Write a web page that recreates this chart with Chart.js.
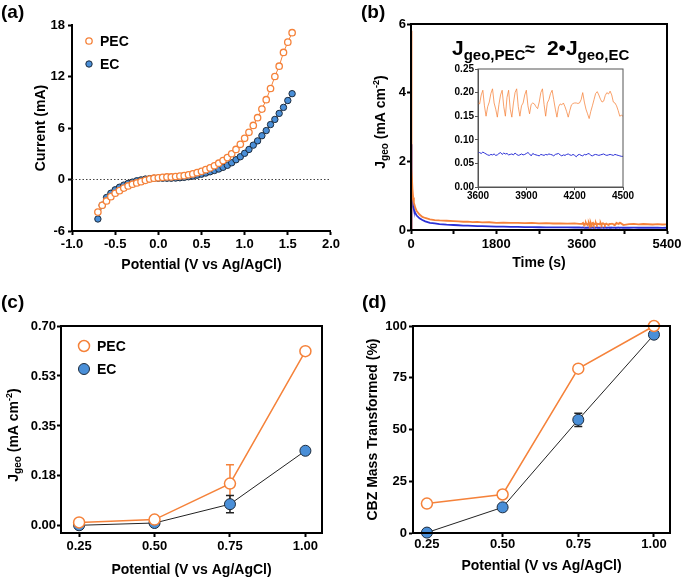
<!DOCTYPE html>
<html>
<head>
<meta charset="utf-8">
<script src="https://cdn.jsdelivr.net/npm/chart.js@4.4.1/dist/chart.umd.min.js"></script>
<style>
body { margin: 0; background: #fff; }
#wrap { position: relative; width: 685px; height: 580px; }
canvas { position: absolute; }
</style>
</head>
<body>
<div id="wrap">
  <canvas id="cA" width="342" height="290" style="left:0;top:0"></canvas>
  <canvas id="cB" width="343" height="290" style="left:342px;top:0"></canvas>
  <canvas id="cC" width="342" height="290" style="left:0;top:290px"></canvas>
  <canvas id="cD" width="343" height="290" style="left:342px;top:290px"></canvas>
  <canvas id="cI" width="200" height="145" style="left:440px;top:60px"></canvas>
</div>
<script>
// ---- (a) LSV curves
var cvPotential = [-0.70, -0.65, -0.60, -0.55, -0.50, -0.45, -0.40, -0.35, -0.30, -0.25,
    -0.20, -0.15, -0.10, -0.05, 0.00, 0.05, 0.10, 0.15, 0.20, 0.25,
    0.30, 0.35, 0.40, 0.45, 0.50, 0.55, 0.60, 0.65, 0.70, 0.75,
    0.80, 0.85, 0.90, 0.95, 1.00, 1.05, 1.10, 1.15, 1.20, 1.25,
    1.30, 1.35, 1.40, 1.45, 1.50, 1.55]
var cvPEC = [-3.8, -3.0, -2.5, -2.0, -1.6, -1.3, -1.0, -0.75, -0.55, -0.4,
    -0.25, -0.1, 0.05, 0.15, 0.2, 0.25, 0.3, 0.3, 0.35, 0.4,
    0.45, 0.55, 0.65, 0.8, 0.95, 1.15, 1.35, 1.6, 1.9, 2.2,
    2.55, 3.0, 3.5, 4.1, 4.8, 5.5, 6.3, 7.2, 8.2, 9.3,
    10.6, 12.0, 13.2, 14.8, 16.0, 17.1]
var cvEC = [-4.6, -3.0, -2.1, -1.6, -1.2, -0.9, -0.65, -0.45, -0.3, -0.15,
    -0.05, 0.05, 0.1, 0.15, 0.15, 0.15, 0.15, 0.15, 0.17, 0.2,
    0.25, 0.32, 0.4, 0.5, 0.62, 0.75, 0.9, 1.05, 1.22, 1.42,
    1.65, 1.95, 2.3, 2.65, 3.05, 3.5, 4.0, 4.5, 5.1, 5.7,
    6.4, 7.0, 7.7, 8.4, 9.2, 10.0]
var aTicksX = [-1.0, -0.5, 0.0, 0.5, 1.0, 1.5, 2.0]
var aLabelsX = ['-1.0', '-0.5', '0.0', '0.5', '1.0', '1.5', '2.0']
var aTicksY = [-6, 0, 6, 12, 18]
var aLabelsY = ['-6', '0', '6', '12', '18']

// ---- (b) chronoamperometry
var earlyTime = [0, 3, 10, 20, 30, 45, 60, 90, 120, 180, 240, 300, 400, 500, 600, 750, 900,
    1000, 1100, 1200, 1300, 1400, 1500, 1650, 1800, 1950, 2100, 2250, 2400, 2550, 2700,
    2850, 3000, 3150, 3300, 3450, 3550]
var pecEarly = [0, 5.8, 3.0, 1.8, 1.2, 0.95, 0.8, 0.65, 0.55, 0.45, 0.38, 0.35, 0.31, 0.29, 0.28, 0.27, 0.26,
    0.25, 0.24, 0.245, 0.23, 0.235, 0.22, 0.225, 0.21, 0.215, 0.205, 0.21, 0.2, 0.205, 0.195,
    0.2, 0.19, 0.195, 0.185, 0.19, 0.18]
var ecEarly = [0, 2.5, 1.6, 1.1, 0.85, 0.7, 0.6, 0.5, 0.42, 0.34, 0.29, 0.25, 0.21, 0.19, 0.17, 0.155, 0.145,
    0.138, 0.13, 0.125, 0.12, 0.115, 0.11, 0.105, 0.1, 0.096, 0.092, 0.089, 0.086, 0.083, 0.08,
    0.078, 0.077, 0.075, 0.074, 0.073, 0.073]
var insetTime = [3600, 3610, 3620, 3630, 3640, 3650, 3660, 3670, 3680, 3690,
    3700, 3710, 3720, 3730, 3740, 3750, 3760, 3770, 3780, 3790,
    3800, 3810, 3820, 3830, 3840, 3850, 3860, 3870, 3880, 3890,
    3900, 3910, 3920, 3930, 3940, 3950, 3960, 3970, 3980, 3990,
    4000, 4010, 4020, 4030, 4040, 4050, 4060, 4070, 4080, 4090,
    4100, 4110, 4120, 4130, 4140, 4150, 4160, 4170, 4180, 4190,
    4200, 4210, 4220, 4230, 4240, 4250, 4260, 4270, 4280, 4290,
    4300, 4310, 4320, 4330, 4340, 4350, 4360, 4370, 4380, 4390,
    4400, 4410, 4420, 4430, 4440, 4450, 4460, 4470, 4480, 4490,
    4500]
var pecInset = [0.178, 0.176, 0.195, 0.205, 0.172, 0.150, 0.170, 0.180, 0.198, 0.208,
    0.178, 0.165, 0.148, 0.175, 0.195, 0.205, 0.170, 0.150, 0.190, 0.205,
    0.165, 0.148, 0.178, 0.200, 0.208, 0.170, 0.150, 0.172, 0.178, 0.195,
    0.205, 0.172, 0.155, 0.175, 0.178, 0.176, 0.170, 0.166, 0.180, 0.200,
    0.208, 0.175, 0.150, 0.178, 0.185, 0.198, 0.205, 0.185, 0.165, 0.148,
    0.170, 0.176, 0.174, 0.178, 0.170, 0.160, 0.148, 0.162, 0.174, 0.177,
    0.178, 0.178, 0.177, 0.178, 0.185, 0.200, 0.180, 0.165, 0.155, 0.145,
    0.160, 0.172, 0.185, 0.198, 0.202, 0.195, 0.186, 0.180, 0.182, 0.194,
    0.200, 0.197, 0.203, 0.195, 0.180, 0.178, 0.172, 0.162, 0.150, 0.152,
    0.150]
var ecInset = [0.072, 0.073, 0.071, 0.074, 0.072, 0.070, 0.068, 0.067, 0.069, 0.068,
    0.070, 0.067, 0.068, 0.071, 0.073, 0.069, 0.072, 0.070, 0.071, 0.068,
    0.069, 0.070, 0.068, 0.072, 0.069, 0.067, 0.068, 0.070, 0.068, 0.069,
    0.071, 0.073, 0.070, 0.066, 0.071, 0.069, 0.068, 0.067, 0.066, 0.069,
    0.068, 0.067, 0.069, 0.068, 0.070, 0.069, 0.068, 0.066, 0.069, 0.070,
    0.071, 0.068, 0.066, 0.068, 0.067, 0.069, 0.070, 0.068, 0.067, 0.069,
    0.067, 0.064, 0.068, 0.069, 0.067, 0.066, 0.069, 0.068, 0.070, 0.071,
    0.067, 0.066, 0.068, 0.069, 0.068, 0.067, 0.068, 0.069, 0.070, 0.068,
    0.067, 0.068, 0.069, 0.068, 0.067, 0.069, 0.068, 0.067, 0.066, 0.065,
    0.065]
var lateTime = [4600, 4700, 4800, 4900, 5000, 5100, 5200, 5300, 5400]
var pecLate = [0.17, 0.18, 0.165, 0.175, 0.168, 0.16, 0.17, 0.16, 0.165]
var ecLate = [0.066, 0.067, 0.066, 0.065, 0.066, 0.065, 0.065, 0.064, 0.065]
var bTicksX = [0, 900, 1800, 2700, 3600, 4500, 5400]
var bLabelsX = ['0', '', '1800', '', '3600', '', '5400']
var bTicksY = [0, 2, 4, 6]
var bLabelsY = ['0', '2', '4', '6']
var insetTicksX = [3600, 3900, 4200, 4500]
var insetLabelsX = ['3600', '3900', '4200', '4500']
var insetTicksY = [0, 0.05, 0.10, 0.15, 0.20, 0.25]
var insetLabelsY = ['0.00', '0.05', '0.10', '0.15', '0.20', '0.25']

// ---- (c) and (d)
var potentials = [0.25, 0.50, 0.75, 1.00]
var jPEC = [0.012, 0.022, 0.148, 0.612]
var jPECErr = [0, 0, 0.066, 0]
var jEC = [0.002, 0.010, 0.076, 0.263]
var jECErr = [0, 0, 0.030, 0]
var cbzPEC = [14.2, 18.6, 79.4, 100]
var cbzPECErr = [0, 0, 1.5, 0]
var cbzEC = [0.2, 12.4, 54.7, 95.8]
var cbzECErr = [0, 0, 3.2, 0]
var potTicks = [0.25, 0.50, 0.75, 1.00]
var potLabels = ['0.25', '0.50', '0.75', '1.00']
var cTicksY = [0, 0.175, 0.35, 0.525, 0.70]
var cLabelsY = ['0.00', '0.18', '0.35', '0.53', '0.70']
var dTicksY = [0, 25, 50, 75, 100]
var dLabelsY = ['0', '25', '50', '75', '100']

var orange = '#f5823a'
var orangeThin = 'rgba(245, 130, 58, 0.75)'
var blueFill = '#4a8fd8'
var blueEdge = '#1d2b3c'
var blueLine = '#2b30d6'
var fontFamily = "'Liberation Sans', Arial, Helvetica, sans-serif"

Chart.defaults.font.family = fontFamily
Chart.defaults.font.weight = 'bold'
Chart.defaults.font.size = 13
Chart.defaults.color = '#000'
Chart.defaults.animation = false
Chart.defaults.plugins.legend.display = false
Chart.defaults.plugins.tooltip.enabled = false

function xy(xs, ys) {
    return xs.map(function (x, i) { return {x: x, y: ys[i]} })
}

function axis(o) {
    return {
        type: 'linear',
        min: o.min,
        max: o.max,
        afterBuildTicks: function (s) {
            s.ticks = o.ticks.map(function (v) { return {value: v} })
        },
        afterFit: function (s) {
            if (s.isHorizontal()) s.height = o.size; else s.width = o.size
        },
        ticks: {
            autoSkip: false,
            maxRotation: 0,
            padding: o.pad,
            color: '#000',
            font: {size: o.font || 13},
            callback: function (v, i) { return o.labels[i] }
        },
        grid: {
            drawOnChartArea: false,
            tickLength: o.tl || 4,
            tickWidth: o.bw || 2,
            tickColor: o.color || '#000'
        },
        border: {color: o.color || '#000', width: o.bw || 2},
        title: o.title ? {display: true, text: o.title, color: '#000', font: {size: 14}, padding: o.tpad} : {display: false}
    }
}

// text made of pieces with sub/superscripts
function drawRich(ctx, x, y, parts, rot, align) {
    ctx.save()
    var total = 0
    parts.forEach(function (p) {
        ctx.font = 'bold ' + p.s + 'px ' + fontFamily
        p.w = ctx.measureText(p.t).width
        total += p.w
    })
    ctx.translate(x, y)
    ctx.rotate(rot || 0)
    var cx = align === 'left' ? 0 : -total / 2
    ctx.fillStyle = '#000'
    ctx.textBaseline = 'alphabetic'
    ctx.textAlign = 'left'
    parts.forEach(function (p) {
        ctx.font = 'bold ' + p.s + 'px ' + fontFamily
        ctx.fillText(p.t, cx, p.dy || 0)
        cx += p.w
    })
    ctx.restore()
}

function decor(cfg) {
    return {
        id: 'decor',
        beforeDatasetsDraw: function (chart) {
            var ctx = chart.ctx
            var a = chart.chartArea
            if (cfg.zero) {
                var y0 = chart.scales.y.getPixelForValue(0)
                ctx.save()
                ctx.strokeStyle = '#444'
                ctx.lineWidth = 1
                ctx.setLineDash([1.5, 2])
                ctx.beginPath()
                ctx.moveTo(a.left, y0)
                ctx.lineTo(a.right, y0)
                ctx.stroke()
                ctx.restore()
            }
            (cfg.errors || []).forEach(function (e) {
                var meta = chart.getDatasetMeta(e.ds)
                var ys = chart.data.datasets[e.ds].data
                ctx.save()
                ctx.strokeStyle = e.color
                ctx.lineWidth = 1.5
                e.values.forEach(function (err, i) {
                    if (!err) return
                    var px = meta.data[i].x
                    var top = chart.scales.y.getPixelForValue(ys[i].y + err)
                    var bot = chart.scales.y.getPixelForValue(ys[i].y - err)
                    ctx.beginPath()
                    ctx.moveTo(px, top); ctx.lineTo(px, bot)
                    ctx.moveTo(px - 4, top); ctx.lineTo(px + 4, top)
                    ctx.moveTo(px - 4, bot); ctx.lineTo(px + 4, bot)
                    ctx.stroke()
                })
                ctx.restore()
            })
        },
        afterDraw: function (chart) {
            var ctx = chart.ctx
            var a = chart.chartArea
            if (cfg.box) {
                ctx.save()
                ctx.strokeStyle = cfg.boxColor || '#000'
                ctx.lineWidth = cfg.boxWidth || 2
                ctx.strokeRect(a.left, a.top, a.right - a.left, a.bottom - a.top)
                ctx.restore()
            }
            if (cfg.letter) {
                ctx.save()
                ctx.font = 'bold 19px ' + fontFamily
                ctx.fillStyle = '#000'
                ctx.textBaseline = 'alphabetic'
                ctx.fillText(cfg.letter[0], cfg.letter[1], cfg.letter[2])
                ctx.restore()
            }
            (cfg.rich || []).forEach(function (r) {
                drawRich(ctx, r.x, r.y, r.parts, r.rot, r.align)
            });
            (cfg.legend || []).forEach(function (l) {
                ctx.save()
                ctx.beginPath()
                ctx.arc(l.x, l.y, l.r, 0, Math.PI * 2)
                ctx.fillStyle = l.fill
                ctx.fill()
                ctx.lineWidth = l.lw
                ctx.strokeStyle = l.stroke
                ctx.stroke()
                ctx.font = 'bold 14px ' + fontFamily
                ctx.fillStyle = '#000'
                ctx.textBaseline = 'middle'
                ctx.fillText(l.label, l.tx, l.y + 1)
                ctx.restore()
            })
        }
    }
}

var jgeoTitle = [
    {t: 'J', s: 14},
    {t: 'geo', s: 10, dy: 3},
    {t: ' (mA cm', s: 14},
    {t: '-2', s: 9, dy: -6},
    {t: ')', s: 14}
]

// ---- (a)
new Chart(document.getElementById('cA'), {
    type: 'line',
    data: {
        datasets: [
            {
                data: xy(cvPotential, cvPEC),
                borderColor: orange, borderWidth: 1,
                pointRadius: 3.2, pointBackgroundColor: '#fff',
                pointBorderColor: orange, pointBorderWidth: 1.3, clip: false
            },
            {
                data: xy(cvPotential, cvEC),
                borderColor: blueEdge, borderWidth: 1,
                pointRadius: 3.2, pointBackgroundColor: blueFill,
                pointBorderColor: blueEdge, pointBorderWidth: 1, clip: false
            }
        ]
    },
    options: {
        responsive: false,
        layout: {padding: {left: 0, top: 25, right: 11, bottom: 0}},
        scales: {
            x: axis({min: -1, max: 2, ticks: aTicksX, labels: aLabelsX, size: 59, pad: 2,
                title: 'Potential (V vs Ag/AgCl)', tpad: {top: 0, bottom: 16}}),
            y: axis({min: -6, max: 18, ticks: aTicksY, labels: aLabelsY, size: 72, pad: 3,
                title: 'Current (mA)', tpad: {top: 33, bottom: 0}})
        }
    },
    plugins: [decor({
        zero: true,
        letter: ['(a)', 1, 18],
        legend: [
            {x: 89, y: 41, r: 3.2, fill: '#fff', stroke: orange, lw: 1.3, label: 'PEC', tx: 100},
            {x: 89, y: 64, r: 3.2, fill: blueFill, stroke: blueEdge, lw: 1, label: 'EC', tx: 100}
        ]
    })]
})

// ---- (b)
var bTime = earlyTime.concat(insetTime, lateTime)
new Chart(document.getElementById('cB'), {
    type: 'line',
    data: {
        datasets: [
            {data: xy(bTime, pecEarly.concat(pecInset, pecLate)), borderColor: orange, borderWidth: 1.8, pointRadius: 0},
            {data: xy(bTime, ecEarly.concat(ecInset, ecLate)), borderColor: blueLine, borderWidth: 1.8, pointRadius: 0}
        ]
    },
    options: {
        responsive: false,
        layout: {padding: {left: 0, top: 24, right: 18, bottom: 0}},
        scales: {
            x: axis({min: 0, max: 5400, ticks: bTicksX, labels: bLabelsX, size: 60, pad: 3,
                title: 'Time (s)', tpad: {top: 0, bottom: 18}}),
            y: axis({min: 0, max: 6, ticks: bTicksY, labels: bLabelsY, size: 69, pad: 1})
        }
    },
    plugins: [decor({
        box: true,
        letter: ['(b)', 19, 18],
        rich: [
            {x: 43, y: 122, rot: -Math.PI / 2, parts: jgeoTitle},
            {x: 110, y: 55, align: 'left', parts: [
                {t: 'J', s: 21},
                {t: 'geo,PEC', s: 15, dy: 5},
                {t: '\u2248', s: 18},
                {t: '  2\u2022J', s: 21},
                {t: 'geo,EC', s: 15, dy: 5}
            ]}
        ]
    })]
})

// ---- inset of (b)
new Chart(document.getElementById('cI'), {
    type: 'line',
    data: {
        datasets: [
            {data: xy(insetTime, pecInset), borderColor: orangeThin, borderWidth: 1, pointRadius: 0},
            {data: xy(insetTime, ecInset), borderColor: blueLine, borderWidth: 1, pointRadius: 0}
        ]
    },
    options: {
        responsive: false,
        layout: {padding: {left: 0, top: 9, right: 17, bottom: 0}},
        scales: {
            x: axis({min: 3600, max: 4500, ticks: insetTicksX, labels: insetLabelsX, size: 18, pad: 0,
                font: 10, tl: 3, bw: 1, color: '#555'}),
            y: axis({min: 0, max: 0.25, ticks: insetTicksY, labels: insetLabelsY, size: 38, pad: 1,
                font: 10, tl: 3, bw: 1, color: '#555'})
        }
    },
    plugins: [decor({box: true, boxColor: '#555', boxWidth: 1})]
})

// ---- (c)
new Chart(document.getElementById('cC'), {
    type: 'line',
    data: {
        datasets: [
            {
                data: xy(potentials, jPEC), borderColor: orange, borderWidth: 1.5,
                pointRadius: 5.5, pointBackgroundColor: '#fff', pointBorderColor: orange,
                pointBorderWidth: 1.5, clip: false
            },
            {
                data: xy(potentials, jEC), borderColor: '#222', borderWidth: 1,
                pointRadius: 5.5, pointBackgroundColor: blueFill, pointBorderColor: blueEdge,
                pointBorderWidth: 1, clip: false
            }
        ]
    },
    options: {
        responsive: false,
        layout: {padding: {left: 0, top: 36, right: 20, bottom: 0}},
        scales: {
            x: axis({min: 0.19, max: 1.055, ticks: potTicks, labels: potLabels, size: 47, pad: 2,
                title: 'Potential (V vs Ag/AgCl)', tpad: {top: 0, bottom: 1}}),
            y: axis({min: -0.025, max: 0.70, ticks: cTicksY, labels: cLabelsY, size: 61, pad: 1})
        }
    },
    plugins: [decor({
        box: true,
        letter: ['(c)', 1, 18],
        errors: [
            {ds: 0, values: jPECErr, color: orange},
            {ds: 1, values: jECErr, color: '#222'}
        ],
        rich: [{x: 18, y: 145, rot: -Math.PI / 2, parts: jgeoTitle}],
        legend: [
            {x: 84, y: 56, r: 5.5, fill: '#fff', stroke: orange, lw: 1.5, label: 'PEC', tx: 97},
            {x: 84, y: 79, r: 5.5, fill: blueFill, stroke: blueEdge, lw: 1, label: 'EC', tx: 97}
        ]
    })]
})

// ---- (d)
new Chart(document.getElementById('cD'), {
    type: 'line',
    data: {
        datasets: [
            {
                data: xy(potentials, cbzPEC), borderColor: orange, borderWidth: 1.5,
                pointRadius: 5.5, pointBackgroundColor: '#fff', pointBorderColor: orange,
                pointBorderWidth: 1.5, clip: false
            },
            {
                data: xy(potentials, cbzEC), borderColor: '#222', borderWidth: 1,
                pointRadius: 5.5, pointBackgroundColor: blueFill, pointBorderColor: blueEdge,
                pointBorderWidth: 1, clip: false
            }
        ]
    },
    options: {
        responsive: false,
        layout: {padding: {left: 0, top: 36, right: 15, bottom: 0}},
        scales: {
            x: axis({min: 0.204, max: 1.053, ticks: potTicks, labels: potLabels, size: 47, pad: 0,
                title: 'Potential (V vs Ag/AgCl)', tpad: {top: 0, bottom: 5}}),
            y: axis({min: 0, max: 100, ticks: dTicksY, labels: dLabelsY, size: 71, pad: 2,
                title: 'CBZ Mass Transformed (%)', tpad: {top: 23, bottom: 0}})
        }
    },
    plugins: [decor({
        box: true,
        letter: ['(d)', 20, 18],
        errors: [
            {ds: 0, values: cbzPECErr, color: orange},
            {ds: 1, values: cbzECErr, color: '#222'}
        ]
    })]
})
</script>
</body>
</html>
